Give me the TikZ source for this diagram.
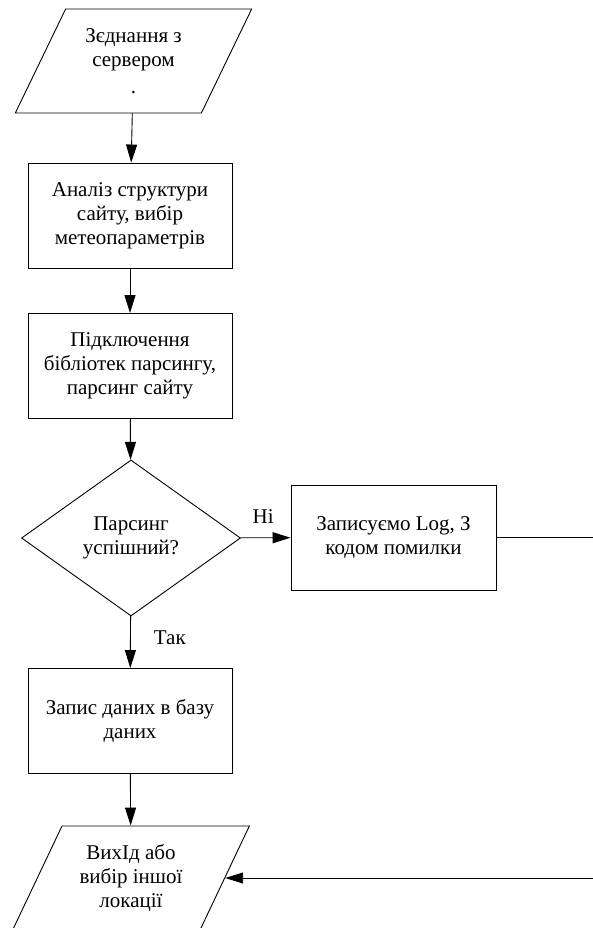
\documentclass[tikz,border=0pt]{standalone}
\usepackage{fontspec}
\setmainfont{Liberation Serif}
\usetikzlibrary{shapes.geometric,arrows.meta}

\begin{document}
\begin{tikzpicture}[x=1pt,y=-1pt,auto,line width=0.9pt,
    every node/.style={font=\fontsize{21}{24}\selectfont,align=center},
    box/.style={draw,rectangle,minimum width=204,minimum height=105},
    io/.style={draw,trapezium,trapezium left angle=62,trapezium right angle=118,
      trapezium stretches=true,minimum width=237,minimum height=104},
    cond/.style={draw,diamond,minimum width=219,minimum height=156,inner sep=0pt},
    lbl/.style={inner sep=9pt},
    arr/.style={-{Triangle[length=18pt,width=11pt]}}]
    \clip (0,0) rectangle (593,928);
    \node[io] (a) at (133.5,61) {Зєднання з\\сервером\\[3pt].};
    \node[box] (b) at (130,215.5) {Аналіз структури\\сайту, вибір\\метеопараметрів};
    \node[box] (c) at (130,366) {Підключення\\бібліотек парсингу,\\парсинг сайту};
    \node[cond] (d) at (131,538) {Парсинг\\успішний?};
    \node[box,minimum width=205] (e) at (393.5,537.5) {Записуємо Log, З\\кодом помилки};
    \node[box] (f) at (130,721) {Запис даних в базу\\даних};
    \node[io] (g) at (131,878) {ВихІд або\\вибір іншої\\локації};
    \coordinate (h) at (620,537.5);
    \draw [arr] (a) -- (b);
    \draw [arr] (b) -- (c);
    \draw [arr] (c) -- (d);
    \draw [arr] (d) -- node[lbl,inner sep=14pt,pos=0.45] {Ні} (e);
    \draw [arr] (d) -- node[lbl,xshift=14pt,pos=0.42] {Так} (f);
    \draw [arr] (f) -- (g);
    \draw [arr] (e) -- (h) |- (g);
  \end{tikzpicture}
\end{document}
